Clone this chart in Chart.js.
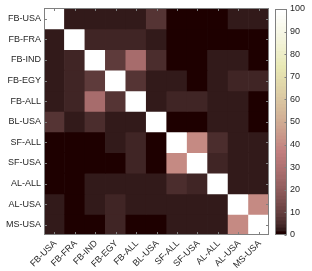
<!DOCTYPE html>
<html>
<head>
<meta charset="utf-8">
<script src="https://cdn.jsdelivr.net/npm/chart.js@4.4.1/dist/chart.umd.min.js"></script>
<style>
  html, body { margin: 0; padding: 0; background: #fff; }
  #wrap { position: relative; width: 312px; height: 271px; }
  #heat { position: absolute; left: 0; top: 0; }
  #cbar { position: absolute; left: 270px; top: 0; }
</style>
</head>
<body>
<div id="wrap">
  <canvas id="heat" width="272" height="271" style="width:272px;height:271px"></canvas>
  <canvas id="cbar" width="42" height="271" style="width:42px;height:271px"></canvas>
</div>
<script>
// categories (same for rows and columns)
const labels = ['FB-USA', 'FB-FRA', 'FB-IND', 'FB-EGY', 'FB-ALL', 'BL-USA',
                'SF-ALL', 'SF-USA', 'AL-ALL', 'AL-USA', 'MS-USA'];

// similarity matrix, one row per category (0-100)
const values = [
  [100, 2.5, 2.5, 2.5, 2.5, 6.8, 0.5, 0.5, 0.5, 2.5, 2.5],
  [2.5, 100, 3.5, 3.5, 3.5, 2.5, 0.5, 0.5, 0.5, 0.5, 0.5],
  [2.5, 3.5, 100, 8.5, 27.5, 5, 0.5, 0.5, 2.5, 2.5, 0.5],
  [2.5, 3.5, 8.5, 100, 6.8, 2.5, 2.5, 0.5, 2.5, 3.5, 3.5],
  [2.5, 3.5, 27.5, 6.8, 100, 2.5, 3.5, 3.5, 2.5, 2.5, 0.5],
  [6.8, 2.5, 5, 2.5, 2.5, 100, 0.5, 0.5, 2.5, 2.5, 0.5],
  [0.5, 0.5, 0.5, 2.5, 3.5, 0.5, 100, 40, 5, 2.5, 2.5],
  [0.5, 0.5, 0.5, 0.5, 3.5, 0.5, 40, 100, 3.5, 2.5, 2.5],
  [0.5, 0.5, 2.5, 2.5, 2.5, 2.5, 5, 3.5, 100, 2.5, 2.5],
  [2.5, 0.5, 2.5, 3.5, 2.5, 2.5, 2.5, 2.5, 2.5, 100, 40],
  [2.5, 0.5, 0.5, 3.5, 0.5, 0.5, 2.5, 2.5, 2.5, 40, 100]
];

// colorbar tick labels
const cbTicks = [0, 10, 20, 30, 40, 50, 60, 70, 80, 90, 100];
const cbMin = 0, cbMax = 100;

const FONT = { family: "'Liberation Sans', Arial, sans-serif", size: 9 };
const TEXT = '#262626';

// MATLAB-like "pink" colormap, 64 levels
const LEVELS = 64;
function pinkColor(idx) {
  const n = Math.floor(3 / 8 * LEVELS);
  const gray = idx / (LEVELS - 1);
  const rh = idx < n ? (idx + 1) / n : 1;
  const gh = idx < n ? 0 : (idx < 2 * n ? (idx - n + 1) / n : 1);
  const bh = idx < 2 * n ? 0 : (idx - 2 * n + 1) / (LEVELS - 2 * n);
  const c = h => Math.round(255 * Math.sqrt((2 * gray + h) / 3));
  return `rgb(${c(rh)},${c(gh)},${c(bh)})`;
}
function colorFor(v) {
  const idx = Math.min(LEVELS - 1, Math.floor((v - cbMin) / (cbMax - cbMin) * LEVELS));
  return pinkColor(Math.max(0, idx));
}

// axes box + inward ticks (MATLAB style)
const framePlugin = {
  id: 'frame',
  afterDraw(chart, args, opts) {
    const { ctx, chartArea: a } = chart;
    const L = Math.round(a.left) + 0.5, T = Math.round(a.top) + 0.5;
    const R = Math.round(a.right) - 0.5, B = Math.round(a.bottom) - 0.5;
    ctx.save();
    ctx.strokeStyle = opts.color;
    ctx.lineWidth = 1;
    ctx.strokeRect(L, T, R - L, B - T);
    const len = opts.tickLen;
    ctx.beginPath();
    (opts.xTicks || []).forEach(id => {
      const s = chart.scales[id];
      s.ticks.forEach((t, i) => {
        const px = Math.round(s.getPixelForTick(i)) + 0.5;
        ctx.moveTo(px, T); ctx.lineTo(px, T + len);
        ctx.moveTo(px, B); ctx.lineTo(px, B - len);
      });
    });
    (opts.yTicks || []).forEach(id => {
      const s = chart.scales[id];
      s.ticks.forEach((t, i) => {
        const py = Math.round(s.getPixelForTick(i)) + 0.5;
        if (opts.leftTicks) { ctx.moveTo(L, py); ctx.lineTo(L + len, py); }
        ctx.moveTo(R, py); ctx.lineTo(R - len, py);
      });
    });
    ctx.stroke();

    // rotated category labels under the x axis (45 deg, like MATLAB)
    if (opts.xLabels) {
      const s = chart.scales.x;
      ctx.fillStyle = TEXT;
      ctx.font = `${FONT.size}px ${FONT.family}`;
      ctx.textAlign = 'right';
      ctx.textBaseline = 'middle';
      s.ticks.forEach((t, i) => {
        ctx.save();
        ctx.translate(s.getPixelForTick(i) + 1, a.bottom + 7);
        ctx.rotate(-Math.PI / 4);
        ctx.fillText(labels[i], 0, 0);
        ctx.restore();
      });
    }
    ctx.restore();
  }
};

// ---------- heatmap ----------
const heatSets = values.map((row, r) => ({
  label: labels[r],
  data: labels.map((col, c) => ({ x: col, y: [r, r + 1] })),
  backgroundColor: row.map(colorFor),
  borderWidth: 0,
  barPercentage: 1,
  categoryPercentage: 1,
  grouped: false
}));

new Chart(document.getElementById('heat'), {
  type: 'bar',
  data: { labels: labels, datasets: heatSets },
  options: {
    responsive: false,
    animation: false,
    layout: { padding: { top: 8, right: 3, left: 0, bottom: 0 } },
    plugins: {
      legend: { display: false },
      tooltip: { enabled: false },
      frame: { color: '#808080', tickLen: 2.5, xTicks: ['x'], yTicks: ['y'], leftTicks: true, xLabels: true }
    },
    scales: {
      x: {
        type: 'category',
        grid: { display: false, drawTicks: false },
        border: { display: false },
        afterFit: s => { s.height = 36; },
        ticks: { display: false, autoSkip: false }
      },
      y: {
        type: 'linear',
        reverse: true,
        min: 0,
        max: labels.length,
        grid: { display: false, drawTicks: false },
        border: { display: false },
        afterFit: s => { s.width = 44; },
        afterBuildTicks: s => { s.ticks = labels.map((l, i) => ({ value: i + 0.5 })); },
        ticks: { padding: 3, color: TEXT, font: FONT, callback: v => labels[Math.floor(v)] }
      }
    }
  },
  plugins: [framePlugin]
});

// ---------- colorbar ----------
const cbSets = [];
for (let i = 0; i < LEVELS; i++) {
  cbSets.push({
    data: [[cbMin + (cbMax - cbMin) * i / LEVELS, cbMin + (cbMax - cbMin) * (i + 1) / LEVELS]],
    backgroundColor: pinkColor(i),
    borderWidth: 0,
    barPercentage: 1,
    categoryPercentage: 1,
    grouped: false
  });
}

new Chart(document.getElementById('cbar'), {
  type: 'bar',
  data: { labels: ['cb'], datasets: cbSets },
  options: {
    responsive: false,
    animation: false,
    layout: { padding: { top: 9, right: 0, left: 5, bottom: 36 } },
    plugins: {
      legend: { display: false },
      tooltip: { enabled: false },
      frame: { color: '#808080', tickLen: 2, xTicks: [], yTicks: ['y'], leftTicks: false }
    },
    scales: {
      x: { display: false },
      y: {
        type: 'linear',
        position: 'right',
        min: cbMin,
        max: cbMax,
        grid: { display: false, drawTicks: false },
        border: { display: false },
        afterFit: s => { s.width = 25; },
        afterBuildTicks: s => { s.ticks = cbTicks.map(v => ({ value: v })); },
        ticks: { padding: 3, color: TEXT, font: FONT }
      }
    }
  },
  plugins: [framePlugin]
});
</script>
</body>
</html>
